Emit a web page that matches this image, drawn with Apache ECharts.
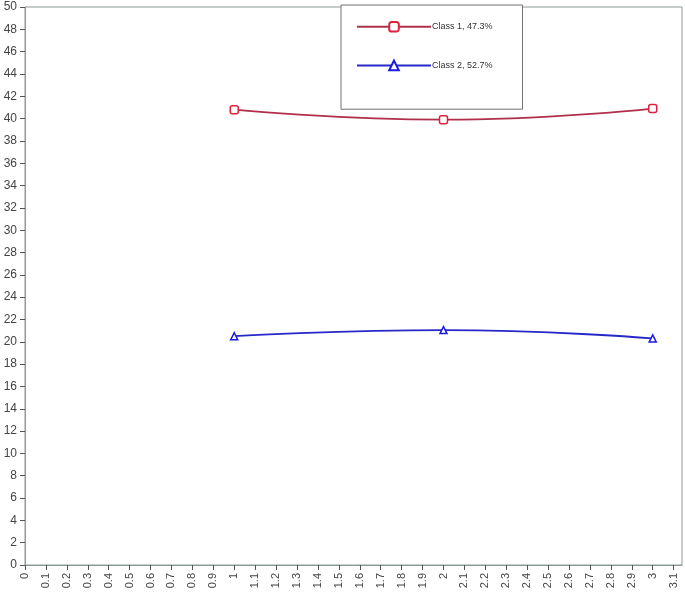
<!DOCTYPE html>
<html><head><meta charset="utf-8">
<script src="https://cdn.jsdelivr.net/npm/echarts@6/dist/echarts.min.js"></script>
<style>html,body{margin:0;padding:0;background:#fff}#c{width:685px;height:594px}</style>
</head><body><div id="c"></div>
<script>
const xValues = [1, 2, 3];
const class1 = [40.8, 39.9, 40.9];
const class2 = [20.5, 21.05, 20.3];
const seriesNames = ['Class 1, 47.3%', 'Class 2, 52.7%'];
const xTicks = [0,0.1,0.2,0.3,0.4,0.5,0.6,0.7,0.8,0.9,1,1.1,1.2,1.3,1.4,1.5,1.6,1.7,1.8,1.9,2,2.1,2.2,2.3,2.4,2.5,2.6,2.7,2.8,2.9,3,3.1];

const chart = echarts.init(document.getElementById('c'));
const font = 'Liberation Sans, Arial, sans-serif';
chart.setOption({
  animation: false,
  grid: {left: 25, right: 3, top: 7, bottom: 29, show: true, borderColor: '#8c9a98', borderWidth: 1, backgroundColor: 'transparent'},
  legend: {
    left: 341, top: 5, orient: 'vertical',
    padding: [16, 30, 38, 15], itemGap: 27, itemWidth: 74, itemHeight: 12,
    borderColor: '#707070', borderWidth: 1, backgroundColor: '#fff',
    textStyle: {fontFamily: font, fontSize: 9, color: '#333', padding: [0,0,0,-4]},
    data: seriesNames
  },
  xAxis: {
    type: 'value', min: 0, max: 3.14,
    axisLine: {lineStyle: {color: '#8c9a98'}},
    axisTick: {show: true, length: 5, lineStyle: {color: '#555'}, customValues: xTicks},
    axisLabel: {customValues: xTicks, rotate: 90, color: '#444', fontFamily: font, fontSize: 11, margin: 8,
      formatter: v => String(Math.round(v*10)/10)},
    splitLine: {show: false}
  },
  yAxis: {
    type: 'value', min: 0, max: 50, interval: 2,
    axisLine: {show: true, lineStyle: {color: '#8c9a98'}},
    axisTick: {show: true, length: 5, lineStyle: {color: '#555'}},
    axisLabel: {color: '#444', fontFamily: font, fontSize: 12, margin: 8},
    splitLine: {show: false}
  },
  series: [
    {name: seriesNames[0], type: 'line', smooth: true,
     data: xValues.map((x,i)=>[x, class1[i]]),
     symbol: 'roundRect', symbolSize: 8,
     lineStyle: {color: '#b0304c', width: 1.8},
     itemStyle: {color: '#fff', borderColor: '#e0203c', borderWidth: 1.5}},
    {name: seriesNames[1], type: 'line', smooth: true,
     data: xValues.map((x,i)=>[x, class2[i]]),
     symbol: 'triangle', symbolSize: 7,
     lineStyle: {color: '#2828c8', width: 1.8},
     itemStyle: {color: '#fff', borderColor: '#1a1ae0', borderWidth: 1.5}}
  ]
});
</script></body></html>
